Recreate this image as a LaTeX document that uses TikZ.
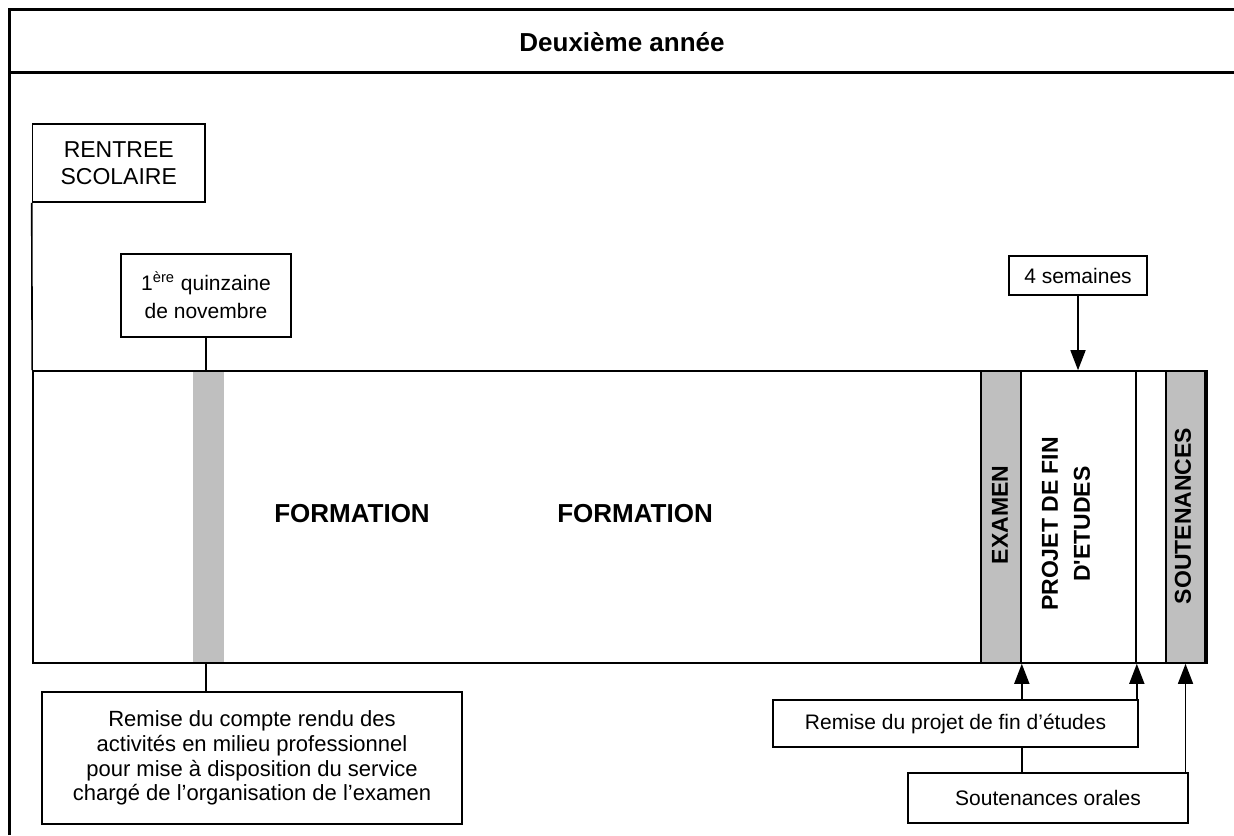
\documentclass[tikz,border=0pt]{standalone}
\usepackage{fontspec}
\setmainfont{Liberation Sans}
\usetikzlibrary{arrows.meta,positioning}

\tikzset{
  box/.style={draw, line width=0.8pt, align=center, inner sep=0pt,
    font=\fontsize{10.5}{12.3}\selectfont},
  band/.style={draw, line width=0.8pt, fill=gray!50, inner sep=0pt, minimum height=146pt},
  link/.style={line width=0.8pt},
  up/.style={line width=0.8pt, -{Triangle[length=10pt,width=7.5pt]}},
  vlabel/.style={rotate=90, align=center, font=\fontsize{11.5}{16}\selectfont\bfseries},
  big/.style={font=\fontsize{13}{15}\selectfont\bfseries}
}

\begin{document}
\begin{tikzpicture}[x=0.5pt,y=-0.5pt]
   \useasboundingbox (0,0) rectangle (1234,835);
   % cadre
   \draw[line width=1.5pt] (9,835) -- (9,9.5) -- (1234,9.5);
   \draw[line width=1.5pt] (9,72.5) -- (1234,72.5);
   \node[big] (titre) at (622,42) {Deuxième année};

   % bande principale
   \node[draw, line width=0.8pt, inner sep=0pt, minimum width=587pt, minimum height=146pt] (main) at (620,517) {};
   \node[fill=gray!50, inner sep=0pt, minimum width=15.5pt, minimum height=145pt] (nov) at (208.5,517) {};
   \node[band, minimum width=20pt] (examen) at (1001,517) {};
   \node[draw, line width=0.8pt, inner sep=0pt, minimum width=57.5pt, minimum height=146pt] (projet) at (1078.5,517) {};
   \node[band, minimum width=19.5pt] (sout) at (1185.5,517) {};

   \node[big] (form1) at (352,514) {FORMATION};
   \node[big] (form2) at (635,514) {FORMATION};
   \node[vlabel] (lexam) at (1000,515) {EXAMEN};
   \node[vlabel] (lprojet) at (1066,524) {PROJET DE FIN\\D\textquotesingle ETUDES};
   \node[vlabel] (lsout) at (1183,516) {SOUTENANCES};

   % boites
   \node[box, minimum width=86.25pt, minimum height=39pt, font=\fontsize{11.5}{13.5}\selectfont] (rentree) at (118.75,163) {RENTREE\\SCOLAIRE};
   \node[box, minimum width=85pt, minimum height=41.5pt, font=\fontsize{10.5}{14}\selectfont] (quinz) at (206,295.5) {1\textsuperscript{ère} quinzaine\\de novembre};
   \node[box, minimum width=210pt, minimum height=66pt, font=\fontsize{11}{12.3}\selectfont] (compte) at (252,758) {Remise du compte rendu des\\activités en milieu professionnel\\pour mise à disposition du service\\chargé de l’organisation de l’examen};
   \node[box, minimum width=69pt, minimum height=19.5pt] (semaines) at (1078,275.5) {4 semaines};
   \node[box, minimum width=182.5pt, minimum height=23.5pt] (remise) at (955.5,723.5) {Remise du projet de fin d’études};
   \node[box, minimum width=140pt, minimum height=25pt] (orales) at (1048,798) {Soutenances orales};

   % liens
   \draw[link] (rentree.south west) -- (main.north west);
   \draw[link] (quinz.south) -- (quinz.south |- main.north);
   \draw[link] (compte.north -| quinz.south) -- (main.south -| quinz.south);
   \draw[up] (semaines.south) -- (semaines.south |- main.north);
   \draw[up] (remise.north -| examen.south east) -- (examen.south east);
   \draw[up] (remise.north -| projet.south east) -- (projet.south east);
   \draw[link] (remise.south -| examen.south east) -- (orales.north -| examen.south east);
   \draw[up] (orales.north -| sout.south) -- (sout.south);
\end{tikzpicture}
\end{document}
